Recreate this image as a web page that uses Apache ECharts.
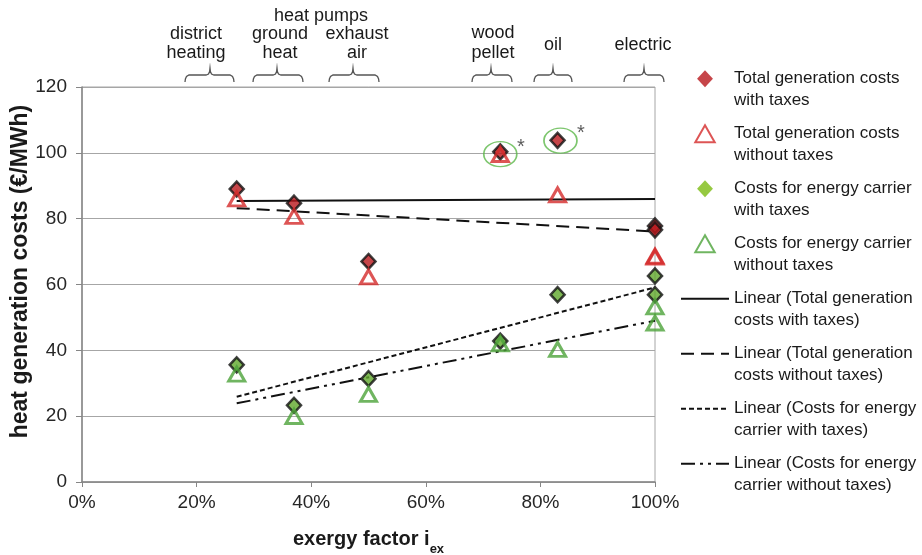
<!DOCTYPE html>
<html><head><meta charset="utf-8">
<script src="https://cdn.jsdelivr.net/npm/echarts@6/dist/echarts.min.js"></script>
<style>html,body{margin:0;padding:0;background:#fff}#chart{width:922px;height:555px}</style>
</head><body><div id="chart"></div>
<script>
// ---------------- data ----------------
const carriers = ['district heating', 'ground heat', 'exhaust air', 'wood pellet', 'oil', 'electric', 'electric'];
const exergyFactor = [27, 37, 50, 73, 83, 100, 100];
const totalWithTaxes = [89, 84.7, 67, 100.3, 103.8, 77.8, 76.6];
const totalWithoutTaxes = [86, 80.7, 62.3, 99.5, 87.2, 68.6, 68.3];
const carrierWithTaxes = [35.6, 23.3, 31.4, 42.8, 56.9, 62.6, 56.9];
const carrierWithoutTaxes = [32.8, 19.9, 26.6, 42.0, 40.3, 53.2, 48.3];

const trendX = [27, 100];
const trendTotalWithTaxes = [85.4, 86.0];
const trendTotalWithoutTaxes = [83.2, 76.1];
const trendCarrierWithTaxes = [25.9, 59.1];
const trendCarrierWithoutTaxes = [23.9, 49.0];

const markedX = [73, 83.5];
const markedY = [99.6, 103.7];

const xTicks = [0, 20, 40, 60, 80, 100];
const yTicks = [0, 20, 40, 60, 80, 100, 120];

const seriesNames = [
  'Total generation costs with taxes',
  'Total generation costs without taxes',
  'Costs for energy carrier with taxes',
  'Costs for energy carrier without taxes',
  'Linear (Total generation costs with taxes)',
  'Linear (Total generation costs without taxes)',
  'Linear (Costs for energy carrier with taxes)',
  'Linear (Costs for energy carrier without taxes)'
];
const legendLabels = [
  'Total generation costs\nwith taxes',
  'Total generation costs\nwithout taxes',
  'Costs for energy carrier\nwith taxes',
  'Costs for energy carrier\nwithout taxes',
  'Linear (Total generation\ncosts with taxes)',
  'Linear (Total generation\ncosts without taxes)',
  'Linear (Costs for energy\ncarrier with taxes)',
  'Linear (Costs for energy\ncarrier without taxes)'
];
const groupLabel = 'heat pumps';
const carrierLabels = [['district', 'heating'], ['ground', 'heat'], ['exhaust', 'air'], ['wood', 'pellet'], ['oil'], ['electric']];
const xName = 'exergy factor i';
const xNameSub = 'ex';
const yName = 'heat generation costs (€/MWh)';

// ---------------- layout / style ----------------
const FONT = '"Liberation Sans", Arial, sans-serif';
const pts = (xs, ys) => xs.map((x, i) => [x, ys[i]]);

const braceSpecs = [[185, 210, 234], [253, 277, 303], [329, 353, 379], [472, 491, 512], [534, 553, 572], [624, 644, 664]];
const labelSpecs = [[196, [34, 53]], [280, [34, 53]], [357, [34, 53]], [493, [33, 53]], [553, [45]], [643, [45]]];

function brace(L, T, R) {
  const yb = 82, ym = 75, yt = 68;
  return [[L, yb], [L + 0.4, 79], [L + 1.5, 76.5], [L + 4, ym], [T - 4, ym], [T - 1.5, 74], [T - 0.4, 71.5], [T, yt],
          [T + 0.4, 71.5], [T + 1.5, 74], [T + 4, ym], [R - 4, ym], [R - 1.5, 76.5], [R - 0.4, 79], [R, yb]];
}

const graphics = [];
braceSpecs.forEach(b => graphics.push({
  type: 'polyline', silent: true,
  shape: { points: brace(b[0], b[1], b[2]) },
  style: { stroke: '#555', lineWidth: 1.3, fill: null }
}));
labelSpecs.forEach((s, i) => carrierLabels[i].forEach((t, j) => graphics.push({
  type: 'text', silent: true, x: s[0], y: s[1][j],
  style: { text: t, align: 'center', verticalAlign: 'middle', font: '18px ' + FONT, fill: '#1a1a1a' }
})));
graphics.push({
  type: 'text', silent: true, x: 321, y: 16,
  style: { text: groupLabel, align: 'center', verticalAlign: 'middle', font: '18px ' + FONT, fill: '#1a1a1a' }
});

const chart = echarts.init(document.getElementById('chart'), null, { renderer: 'canvas' });

const diamondStyle = (c) => ({ color: c, borderColor: '#111', borderWidth: 2.5 });
const triStyle = (c) => ({ color: 'rgba(255,255,255,0)', borderColor: c, borderWidth: 3 });
const DIAMOND_ICON = 'path://M7,0L14,7.5L7,15L0,7.5Z';
const TRI_ICON = 'path://M8,0L16,14L0,14Z';
const hideDot = { color: 'rgba(0,0,0,0)', borderWidth: 0 };

const option = {
  animation: false,
  backgroundColor: '#fff',
  textStyle: { fontFamily: FONT },
  grid: { left: 82, right: 267, top: 87, bottom: 73, show: true, borderColor: '#a6a6a6', borderWidth: 1,
          containLabel: false, outerBoundsMode: 'none' },
  xAxis: {
    type: 'value', min: xTicks[0], max: xTicks[xTicks.length - 1], interval: xTicks[1] - xTicks[0],
    axisLine: { lineStyle: { color: '#868686', width: 1.5 } },
    axisTick: { show: true, length: 5, lineStyle: { color: '#868686' } },
    splitLine: { show: false },
    axisLabel: { formatter: '{value}%', fontSize: 19, color: '#262626', margin: 11, fontFamily: FONT },
    name: '{m|' + xName + '}{s|' + xNameSub + '}',
    nameLocation: 'middle', nameGap: 45, nameMoveOverlap: false,
    nameTextStyle: {
      rich: {
        m: { fontSize: 20, fontWeight: 'bold', color: '#1a1a1a', fontFamily: FONT, lineHeight: 24 },
        s: { fontSize: 13, fontWeight: 'bold', color: '#1a1a1a', fontFamily: FONT, verticalAlign: 'bottom', lineHeight: 14, padding: [0, 0, -5, 0] }
      }
    }
  },
  yAxis: {
    type: 'value', min: yTicks[0], max: yTicks[yTicks.length - 1], interval: yTicks[1] - yTicks[0],
    axisLine: { show: true, lineStyle: { color: '#868686', width: 1.5 } },
    axisTick: { show: true, length: 6, lineStyle: { color: '#868686' } },
    splitLine: { show: true, lineStyle: { color: '#a6a6a6', width: 1.2 } },
    axisLabel: { fontSize: 19, color: '#262626', margin: 15, fontFamily: FONT },
    name: yName, nameLocation: 'middle', nameGap: 50, nameMoveOverlap: false,
    nameTextStyle: { fontSize: 23, fontWeight: 'bold', color: '#1a1a1a', fontFamily: FONT, padding: [0, 0, 0, 26] }
  },
  legend: {
    orient: 'vertical', left: 675, top: 41.5, itemGap: -9.5, itemWidth: 48, itemHeight: 17,
    selectedMode: false, symbolKeepAspect: true,
    formatter: (name) => '\n' + legendLabels[seriesNames.indexOf(name)],
    textStyle: { fontSize: 17, lineHeight: 21.5, color: '#1a1a1a', fontFamily: FONT },
    data: [
      { name: seriesNames[0], icon: DIAMOND_ICON, itemStyle: { borderWidth: 0, color: '#b8161c' } },
      { name: seriesNames[1], icon: TRI_ICON },
      { name: seriesNames[2], icon: DIAMOND_ICON, itemStyle: { borderWidth: 0, color: '#7cbc12' } },
      { name: seriesNames[3], icon: TRI_ICON },
      { name: seriesNames[4], itemStyle: hideDot },
      { name: seriesNames[5], itemStyle: hideDot },
      { name: seriesNames[6], itemStyle: hideDot },
      { name: seriesNames[7], itemStyle: hideDot }
    ]
  },
  graphic: graphics,
  series: [
    { name: seriesNames[4], type: 'line', data: pts(trendX, trendTotalWithTaxes), symbol: 'none', z: 3, silent: true,
      lineStyle: { color: '#111', width: 2, type: 'solid' } },
    { name: seriesNames[5], type: 'line', data: pts(trendX, trendTotalWithoutTaxes), symbol: 'none', z: 3, silent: true,
      lineStyle: { color: '#111', width: 2, type: [13, 7] } },
    { name: seriesNames[6], type: 'line', data: pts(trendX, trendCarrierWithTaxes), symbol: 'none', z: 3, silent: true,
      lineStyle: { color: '#111', width: 2, type: [5, 3] } },
    { name: seriesNames[7], type: 'line', data: pts(trendX, trendCarrierWithoutTaxes), symbol: 'none', z: 3, silent: true,
      lineStyle: { color: '#111', width: 2, type: [14, 5, 3, 5, 3, 5] } },
    { name: seriesNames[0], type: 'scatter', data: pts(exergyFactor, totalWithTaxes), symbol: 'diamond', symbolSize: [14, 15], z: 5,
      itemStyle: diamondStyle('#b8161c') },
    { name: seriesNames[1], type: 'scatter', data: pts(exergyFactor, totalWithoutTaxes), symbol: 'triangle', symbolSize: [16, 14], z: 6,
      itemStyle: triStyle('#d42a2a') },
    { name: seriesNames[2], type: 'scatter', data: pts(exergyFactor, carrierWithTaxes), symbol: 'diamond', symbolSize: [14, 15], z: 5,
      itemStyle: diamondStyle('#5fa82a') },
    { name: seriesNames[3], type: 'scatter', data: pts(exergyFactor, carrierWithoutTaxes), symbol: 'triangle', symbolSize: [16, 14], z: 6,
      itemStyle: triStyle('#4ca23a') },
    { name: 'marked', type: 'scatter', data: pts(markedX, markedY), symbol: 'circle', symbolSize: [33, 25], z: 7, silent: true,
      itemStyle: { color: 'rgba(0,0,0,0)', borderColor: '#5cb84a', borderWidth: 1.5 },
      label: { show: true, formatter: '*', position: [34, -4], fontSize: 20, color: '#333', fontFamily: FONT } }
  ]
};
chart.setOption(option);
</script>
</body></html>
